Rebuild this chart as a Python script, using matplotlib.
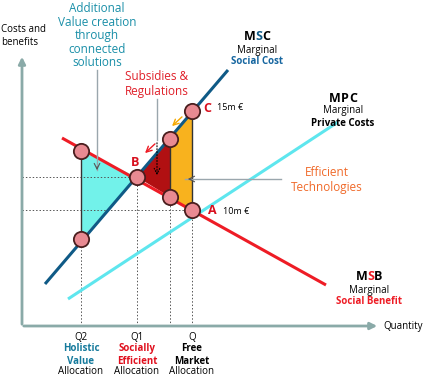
import numpy as np
import matplotlib.pyplot as plt

plt.rcParams['font.family'] = ['Open Sans', 'DejaVu Sans']

# ── diagram data (origin = axis corner, y up) ───────────────────────────────
msc_x, msc_y = [23, 206], [42, 256]      # marginal social cost
mpc_x, mpc_y = [46, 316], [27, 204]      # marginal private cost
msb_x, msb_y = [40, 304], [188, 41]      # marginal social benefit

q2, q1, q_mid, q_free = 59, 115, 148, 170
p_b, p_a, p_c = 149, 116, 215

dots_x = [q2, q2, q1, q_mid, q_mid, q_free, q_free]
dots_y = [175, 87, p_b, 187, 129, p_c, p_a]

tri_holistic = [(q2, 175), (q2, 87), (q1, p_b)]
tri_subsidy = [(q1, p_b), (q_mid, 187), (q_mid, 129)]
quad_eff = [(q_mid, 187), (q_free, p_c), (q_free, p_a), (q_mid, 129)]

q_ticks = [q2, q1, q_free]
q_names = ['Q2', 'Q1', 'Q']
q_desc = ['Holistic\nValue', 'Socially\nEfficient', 'Free\nMarket']
q_desc_col = ['#157a9c', '#e0101e', 'black']

# colours
C_MSC = '#0f5a86'
C_MPC = '#5ee6ee'
C_MSB = '#ee1c25'
C_AXIS = '#8aaaa8'
C_TEAL = '#1a8fa8'

fig = plt.figure(figsize=(4.25, 3.76), dpi=100)
ax = fig.add_axes([0, 0, 1, 1])
ax.set_xlim(-22, 403)
ax.set_ylim(-50, 326)
ax.axis('off')

# axes with arrows
ax.annotate('', xy=(0, 272), xytext=(0, -1),
            arrowprops=dict(arrowstyle='-|>', color=C_AXIS, lw=2, mutation_scale=10))
ax.annotate('', xy=(358, 0), xytext=(-1, 0),
            arrowprops=dict(arrowstyle='-|>', color=C_AXIS, lw=2, mutation_scale=10))

# guide lines
dot = dict(color='#555555', lw=0.7, ls=(0, (1.5, 2)))
ax.plot([0, q1], [p_b, p_b], **dot)
ax.plot([0, q_free], [p_a, p_a], **dot)
for qx, top in [(q2, 87), (q1, p_b), (q_mid, 129), (q_free, p_a)]:
    ax.plot([qx, qx], [0, top], **dot)

# shaded areas
ax.add_patch(plt.Polygon(tri_holistic, closed=True, fc='#72f2ea', ec='none'))
ax.add_patch(plt.Polygon(tri_subsidy, closed=True, fc='#b11012', ec='none'))
ax.add_patch(plt.Polygon(quad_eff, closed=True, fc='#f8b21e', ec='none'))
ax.plot([q2, q2], [87, 175], color='#333333', lw=1)
ax.plot([q_mid, q_mid], [129, 187], color='#333333', lw=1)
ax.plot([q_free, q_free], [p_a, p_c], color='#333333', lw=1)

# curves
ax.plot(mpc_x, mpc_y, color=C_MPC, lw=2.2, solid_capstyle='butt')
ax.plot(msb_x, msb_y, color=C_MSB, lw=2.2, solid_capstyle='butt')
ax.plot(msc_x, msc_y, color=C_MSC, lw=2.2, solid_capstyle='butt')

ax.plot(dots_x, dots_y, 'o', ms=11, mfc='#e98a92', mec='#4a1e1e', mew=1.3, zorder=5)

# pointers
grey = '#9aa6ad'
ax.plot([75, 75], [256, 156], color=grey, lw=1)
ax.annotate('', xy=(75, 153), xytext=(75, 162),
            arrowprops=dict(arrowstyle='->', color='#555555', lw=0.8))
ax.plot([135, 135], [227, 186], color=grey, lw=1)
ax.annotate('', xy=(135, 148), xytext=(135, 186),
            arrowprops=dict(arrowstyle='->', color='black', lw=0.8, ls=':'))
ax.annotate('', xy=(121, 171), xytext=(135, 184),
            arrowprops=dict(arrowstyle='->', color=C_MSB, lw=1))
ax.annotate('', xy=(148, 198), xytext=(162, 211),
            arrowprops=dict(arrowstyle='->', color='#f5a800', lw=1))
ax.plot([163, 259], [147, 147], color=grey, lw=1)
ax.annotate('', xy=(163, 147), xytext=(172, 147),
            arrowprops=dict(arrowstyle='->', color='#555555', lw=0.8))

# text
ax.text(-21, 290, 'Costs and\nbenefits', fontsize=7, va='center', ha='left',
        linespacing=1.15)
ax.text(75, 290, 'Additional\nValue creation\nthrough\nconnected\nsolutions',
        color=C_TEAL, fontsize=8.5, ha='center', va='center', linespacing=1.05)
ax.text(135, 242, 'Subsidies &\nRegulations', color='#e0202a', fontsize=8.5,
        ha='center', va='center', linespacing=1.1)
ax.text(305, 146, 'Efficient\nTechnologies', color='#f06a2a', fontsize=8.5,
        ha='center', va='center', linespacing=1.1)

for x, y, s in [(185, 218, 'C'), (113, 164, 'B'), (190, 116, 'A')]:
    ax.text(x, y, s, color='#d8101e', fontsize=9, fontweight='bold',
            ha='center', va='center')
ax.text(195, 218, '15m €', fontsize=6.5, va='center')
ax.text(201, 115, '10m €', fontsize=6.5, va='center')


def label3(cx, y, a, b, c, cols):
    full = ax.text(cx, y, a + b + c, fontsize=9, fontweight='bold',
                   ha='center', va='center', alpha=0)
    t1 = ax.annotate(a, xycoords=full, xy=(0, 0), ha='left', va='bottom',
                     fontsize=9, fontweight='bold', color=cols[0])
    t2 = ax.annotate(b, xycoords=t1, xy=(1, 0), ha='left', va='bottom',
                     fontsize=9, fontweight='bold', color=cols[1])
    ax.annotate(c, xycoords=t2, xy=(1, 0), ha='left', va='bottom',
                fontsize=9, fontweight='bold', color=cols[2])


label3(235, 289, 'M', 'S', 'C', ['black', C_MSC, 'black'])
ax.text(235, 276, 'Marginal', fontsize=7, ha='center', va='center')
ax.text(235, 264, 'Social Cost', fontsize=7, fontweight='bold', color='#1666a0',
        ha='center', va='center')

label3(321, 228, 'M', 'P', 'C', ['black', 'black', 'black'])
ax.text(321, 215, 'Marginal', fontsize=7, ha='center', va='center')
ax.text(321, 203, 'Private Costs', fontsize=7, fontweight='bold',
        ha='center', va='center')

label3(347, 49, 'M', 'S', 'B', ['black', C_MSB, 'black'])
ax.text(347, 36, 'Marginal', fontsize=7, ha='center', va='center')
ax.text(347, 24, 'Social Benefit', fontsize=7, fontweight='bold', color=C_MSB,
        ha='center', va='center')

ax.text(361, 0, 'Quantity', fontsize=7, va='center', ha='left')

for qx, nm, ds, col in zip(q_ticks, q_names, q_desc, q_desc_col):
    ax.text(qx, -11, nm, fontsize=7, ha='center', va='center')
    ax.text(qx, -29, ds, fontsize=7, fontweight='bold', color=col,
            ha='center', va='center', linespacing=1.15)
    ax.text(qx, -46, 'Allocation', fontsize=7, ha='center', va='center')

fig.savefig('out.png', dpi=100)
